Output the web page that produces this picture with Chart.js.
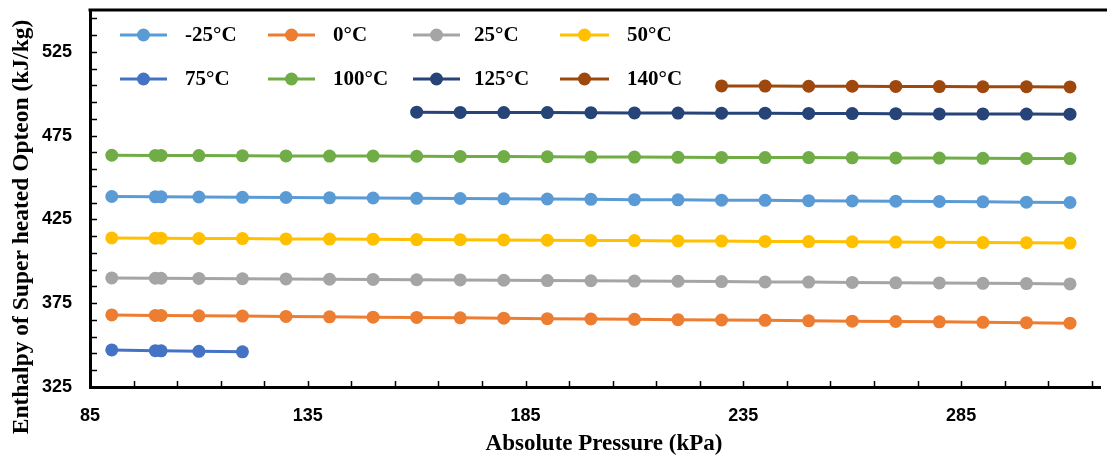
<!DOCTYPE html>
<html lang="en">
<head>
<meta charset="UTF-8">
<title>Enthalpy of Super heated Opteon</title>
<script src="https://cdn.jsdelivr.net/npm/chart.js"></script>
<style>
    html, body { margin: 0; padding: 0; background: #fff; }
    #wrap { width: 1107px; height: 457px; }
</style>
</head>
<body>
<div id="wrap"><canvas id="chart" width="1107" height="457"></canvas></div>
<script>
    // absolute pressure (kPa)
    const pressure = [90, 100, 101.325, 110, 120, 130, 140, 150, 160, 170, 180, 190,
                      200, 210, 220, 230, 240, 250, 260, 270, 280, 290, 300, 310];
    const pressure75 = [90, 100, 101.325, 110, 120];
    const pressure125 = [160, 170, 180, 190, 200, 210, 220, 230, 240, 250, 260, 270, 280, 290, 300, 310];
    const pressure140 = [230, 240, 250, 260, 270, 280, 290, 300, 310];

    // enthalpy (kJ/kg)
    const hm25 = [438.7, 438.5, 438.5, 438.4, 438.2, 438.1, 437.9, 437.8, 437.6, 437.5, 437.3, 437.2,
                  437.0, 436.8, 436.7, 436.5, 436.4, 436.2, 436.0, 435.9, 435.7, 435.5, 435.3, 435.1];
    const h0 = [368.0, 367.7, 367.7, 367.5, 367.3, 367.1, 366.9, 366.7, 366.5, 366.3, 366.1, 365.8,
                365.6, 365.4, 365.2, 365.0, 364.8, 364.5, 364.3, 364.1, 363.9, 363.6, 363.4, 363.1];
    const h25 = [390.1, 389.9, 389.9, 389.8, 389.6, 389.5, 389.3, 389.2, 389.0, 388.9, 388.7, 388.5,
                 388.4, 388.2, 388.1, 387.9, 387.7, 387.6, 387.4, 387.2, 387.1, 386.9, 386.7, 386.5];
    const h50 = [414.0, 413.8, 413.8, 413.7, 413.6, 413.4, 413.3, 413.2, 413.0, 412.9, 412.8, 412.6,
                 412.5, 412.4, 412.2, 412.1, 411.9, 411.8, 411.7, 411.5, 411.4, 411.2, 411.1, 410.9];
    const h75 = [347.1, 346.7, 346.6, 346.3, 346.0];
    const h100 = [463.3, 463.2, 463.2, 463.1, 463.0, 462.9, 462.8, 462.8, 462.7, 462.6, 462.5, 462.4,
                  462.3, 462.2, 462.1, 462.0, 461.9, 461.9, 461.8, 461.7, 461.6, 461.5, 461.4, 461.3];
    const h125 = [489.0, 488.9, 488.8, 488.8, 488.7, 488.6, 488.5, 488.4, 488.4, 488.3, 488.2, 488.1,
                  488.0, 488.0, 487.9, 487.8];
    const h140 = [504.7, 504.6, 504.5, 504.5, 504.4, 504.3, 504.2, 504.2, 504.1];

    const seriesLabels = ['-25°C', '0°C', '25°C', '50°C', '75°C', '100°C', '125°C', '140°C'];
    const seriesColors = ['#5B9BD5', '#ED7D31', '#A5A5A5', '#FFC000', '#4472C4', '#70AD47', '#264478', '#9E480E'];
    const seriesX = [pressure, pressure, pressure, pressure, pressure75, pressure, pressure125, pressure140];
    const seriesY = [hm25, h0, h25, h50, h75, h100, h125, h140];

    const xTicks = [85, 135, 185, 235, 285];
    const yTicks = [325, 375, 425, 475, 525];
    const xTitle = 'Absolute Pressure (kPa)';
    const yTitle = 'Enthalpy of Super heated Opteon (kJ/kg)';

    const tickFont = { family: 'Liberation Sans', weight: 'bold', size: 18 };

    // legend grid: 2 rows x 4 columns inside the plot
    const legendCols = [{ x0: 120, x1: 167, tx: 185 }, { x0: 268, x1: 315, tx: 333 },
                        { x0: 413, x1: 460, tx: 474 }, { x0: 560, x1: 609, tx: 627 }];
    const legendRows = [35, 79];

    const frame = {
        id: 'frame',
        afterDraw(chart) {
            const { ctx, chartArea: a, scales: { x, y } } = chart;
            ctx.save();
            ctx.strokeStyle = '#000';
            ctx.lineWidth = 3;
            ctx.beginPath();
            ctx.moveTo(a.left - 1.5, a.top);
            ctx.lineTo(chart.width, a.top);
            ctx.stroke();

            // small inward ticks every 10
            ctx.lineWidth = 1.5;
            ctx.beginPath();
            for (let v = 95; v <= x.max; v += 10) {
                const px = Math.round(x.getPixelForValue(v)) + 0.5;
                ctx.moveTo(px, a.bottom);
                ctx.lineTo(px, a.bottom - 6);
            }
            for (let v = 335; v < y.max; v += 10) {
                const py = Math.round(y.getPixelForValue(v)) + 0.5;
                ctx.moveTo(a.left, py);
                ctx.lineTo(a.left + 7, py);
            }
            ctx.stroke();

            // axis titles
            ctx.fillStyle = '#000';
            ctx.textAlign = 'center';
            ctx.textBaseline = 'middle';
            ctx.font = 'bold 23px "Liberation Serif"';
            ctx.fillText(xTitle, 604, 444);
            ctx.save();
            ctx.translate(22, 227);
            ctx.rotate(-Math.PI / 2);
            ctx.font = 'bold 23.5px "Liberation Serif"';
            ctx.fillText(yTitle, 0, 0);
            ctx.restore();

            // legend
            ctx.textAlign = 'left';
            ctx.font = 'bold 21px "Liberation Serif"';
            chart.data.datasets.forEach((ds, i) => {
                const col = legendCols[i % 4];
                const ly = legendRows[Math.floor(i / 4)];
                ctx.strokeStyle = ds.borderColor;
                ctx.lineWidth = 3;
                ctx.beginPath();
                ctx.moveTo(col.x0, ly);
                ctx.lineTo(col.x1, ly);
                ctx.stroke();
                ctx.fillStyle = ds.borderColor;
                ctx.beginPath();
                ctx.arc((col.x0 + col.x1) / 2, ly, 6.5, 0, Math.PI * 2);
                ctx.fill();
                ctx.fillStyle = '#000';
                ctx.fillText(ds.label, col.tx, ly + 1);
            });
            ctx.restore();
        }
    };

    const datasets = seriesLabels.map((label, i) => ({
        label: label,
        data: seriesX[i].map((p, j) => ({ x: p, y: seriesY[i][j] })),
        borderColor: seriesColors[i],
        backgroundColor: seriesColors[i],
        borderWidth: 3,
        pointRadius: 6.5,
        pointBorderWidth: 0,
        pointBackgroundColor: seriesColors[i],
        tension: 0
    }));

    function noPad(s) {
        s.paddingTop = 0;
        s.paddingBottom = 0;
        s.paddingLeft = 0;
        s.paddingRight = 0;
    }

    new Chart(document.getElementById('chart'), {
        type: 'line',
        data: { datasets: datasets },
        options: {
            responsive: false,
            animation: false,
            devicePixelRatio: 1,
            layout: { padding: { top: 10, right: 0, left: 0, bottom: 0 } },
            plugins: {
                legend: { display: false },
                tooltip: { enabled: false }
            },
            scales: {
                x: {
                    type: 'linear',
                    min: 85,
                    max: 317,
                    afterBuildTicks: s => { s.ticks = xTicks.map(v => ({ value: v })); },
                    afterFit: s => { s.height = 70; noPad(s); },
                    grid: { display: true, drawOnChartArea: false, drawTicks: false },
                    border: { display: true, color: '#000', width: 3 },
                    ticks: { font: tickFont, color: '#000', padding: 18, maxRotation: 0 }
                },
                y: {
                    type: 'linear',
                    min: 325,
                    max: 550,
                    afterBuildTicks: s => { s.ticks = yTicks.map(v => ({ value: v })); },
                    afterFit: s => { s.width = 90; noPad(s); },
                    grid: { display: true, drawOnChartArea: false, drawTicks: false },
                    border: { display: true, color: '#000', width: 3 },
                    ticks: { font: tickFont, color: '#000', padding: 18 }
                }
            }
        },
        plugins: [frame]
    });
</script>
</body>
</html>
